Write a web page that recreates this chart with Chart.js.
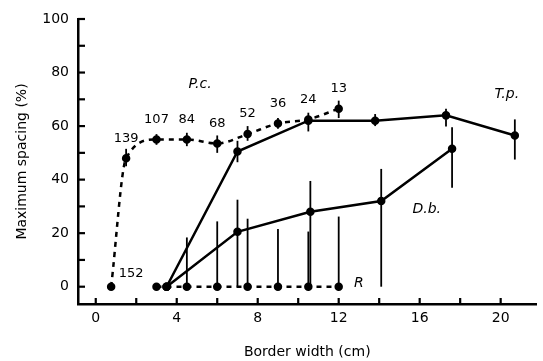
<!DOCTYPE html>
<html>
<head>
<meta charset="utf-8">
<script src="https://cdn.jsdelivr.net/npm/chart.js@4/dist/chart.umd.min.js"></script>
<style>
  html, body { margin: 0; padding: 0; background: #fff; }
  #wrap { width: 543px; height: 361px; }
</style>
</head>
<body>
<div id="wrap"><canvas id="chartSpacing"></canvas></div>
<script>
// P.c. (dashed) with sample sizes
const pcX = [0.76, 1.5, 3, 4.5, 6, 7.5, 9, 10.5, 12];
const pcY = [0, 48, 55, 55, 53.5, 57, 61, 62.5, 66.5];
const pcHi = [null, 51.5, 57, 57.5, 56.5, 60, 63, 65, 69.5];
const pcLo = [null, 45, 53, 52.5, 50, 54.5, 59, 58, 63];
const pcN = ['152', '139', '107', '84', '68', '52', '36', '24', '13'];

// T.p. (solid)
const tpX = [3.5, 7, 10.5, 13.8, 17.3, 20.7];
const tpY = [0, 50.5, 62, 62, 64, 56.5];
const tpHi = [null, 54.5, null, 64.5, 66.5, 62.5];
const tpLo = [null, 46.5, null, 60, 59.8, 47.5];

// D.b. (solid)
const dbX = [3.5, 7, 10.6, 14.1, 17.6];
const dbY = [0, 20.5, 28, 32, 51.5];
const dbHi = [null, 32.5, 39.5, 44, 59.6];
const dbLo = [null, 0, 0, 0, 37];

// R (dashed, all zero)
const rX = [3, 3.5, 4.5, 6, 7.5, 9, 10.5, 12];
const rY = [0, 0, 0, 0, 0, 0, 0, 0];
const rHi = [null, null, 18.4, 24.4, 25.4, 21.6, 20.6, 26.2];
const rLo = [null, null, 0, 0, 0, 0, 0, 0];

// series name labels (placed in data coords)
const seriesNames = ['P.c.', 'T.p.', 'D.b.', 'R'];
const nameX = [5.15, 20.3, 16.35, 13.0];
const nameY = [75.5, 72, 29, 1.3];

const xMajor = [0, 4, 8, 12, 16, 20];
const xMinor = [2, 6, 10, 14, 18];
const yMajor = [0, 20, 40, 60, 80, 100];
const yMinor = [10, 30, 50, 70, 90];

const FONT = 'DejaVu Sans';

function pts(xs, ys) {
  return xs.map((x, i) => ({ x: x, y: ys[i] }));
}

const errorBars = {
  id: 'errorBars',
  afterDatasetsDraw(chart) {
    const ctx = chart.ctx;
    const xs = chart.scales.x, ys = chart.scales.y;
    ctx.save();
    ctx.strokeStyle = '#000';
    ctx.lineWidth = 1.8;
    chart.data.datasets.forEach(ds => {
      if (!ds.errHi) return;
      ds.data.forEach((p, i) => {
        if (ds.errHi[i] == null) return;
        const px = xs.getPixelForValue(p.x);
        ctx.beginPath();
        ctx.moveTo(px, ys.getPixelForValue(ds.errLo[i]));
        ctx.lineTo(px, ys.getPixelForValue(ds.errHi[i]));
        ctx.stroke();
      });
    });
    ctx.restore();
  }
};

const textMarks = {
  id: 'textMarks',
  afterDraw(chart) {
    const ctx = chart.ctx;
    const xs = chart.scales.x, ys = chart.scales.y;
    ctx.save();
    ctx.fillStyle = '#000';
    ctx.textAlign = 'center';
    ctx.textBaseline = 'middle';
    // sample sizes above P.c. points
    ctx.font = '13px "' + FONT + '"';
    pcN.forEach((n, i) => {
      const px = xs.getPixelForValue(pcX[i]);
      const py = ys.getPixelForValue(pcY[i]);
      if (i === 0) ctx.fillText(n, px + 20, py - 13);
      else ctx.fillText(n, px, py - 20);
    });
    ctx.font = 'italic 14px "' + FONT + '"';
    seriesNames.forEach((s, i) => {
      ctx.fillText(s, xs.getPixelForValue(nameX[i]), ys.getPixelForValue(nameY[i]));
    });
    // inward ticks
    ctx.strokeStyle = '#000';
    ctx.lineWidth = 2.2;
    const left = chart.chartArea.left, bottom = chart.chartArea.bottom;
    xMajor.concat(xMinor).forEach(v => {
      const px = xs.getPixelForValue(v);
      ctx.beginPath(); ctx.moveTo(px, bottom); ctx.lineTo(px, bottom - 6); ctx.stroke();
    });
    yMajor.concat(yMinor).forEach(v => {
      const py = ys.getPixelForValue(v);
      ctx.beginPath(); ctx.moveTo(left, py); ctx.lineTo(left + 7, py); ctx.stroke();
    });
    ctx.restore();
  }
};

const ctx = document.getElementById('chartSpacing').getContext('2d');

const lineWidth = 2.5;
const radius = 3;

const myChart = new Chart(ctx, {
  type: 'scatter',
  data: {
    datasets: [
      {
        label: 'P.c.',
        data: pts(pcX, pcY),
        showLine: true,
        borderDash: [5, 5],
        borderColor: '#000',
        backgroundColor: '#000',
        borderWidth: lineWidth,
        pointRadius: radius,
        cubicInterpolationMode: 'monotone',
        errHi: pcHi,
        errLo: pcLo
      },
      {
        label: 'T.p.',
        data: pts(tpX, tpY),
        showLine: true,
        borderColor: '#000',
        backgroundColor: '#000',
        borderWidth: lineWidth,
        pointRadius: radius,
        errHi: tpHi,
        errLo: tpLo
      },
      {
        label: 'D.b.',
        data: pts(dbX, dbY),
        showLine: true,
        borderColor: '#000',
        backgroundColor: '#000',
        borderWidth: lineWidth,
        pointRadius: radius,
        errHi: dbHi,
        errLo: dbLo
      },
      {
        label: 'R',
        data: pts(rX, rY),
        showLine: true,
        borderDash: [5, 5],
        borderColor: '#000',
        backgroundColor: '#000',
        borderWidth: lineWidth,
        pointRadius: radius,
        errHi: rHi,
        errLo: rLo
      }
    ]
  },
  options: {
    responsive: true,
    maintainAspectRatio: false,
    animation: false,
    layout: { padding: { top: 19, right: 0, left: 0, bottom: 0 } },
    plugins: {
      legend: { display: false },
      tooltip: { enabled: false }
    },
    scales: {
      x: {
        type: 'linear',
        min: -0.877,
        max: 21.77,
        afterBuildTicks: s => { s.ticks = xMajor.map(v => ({ value: v })); },
        afterFit: s => { s.height = 57; },
        grid: { display: false, drawTicks: false },
        border: { display: true, color: '#000', width: 2.5 },
        ticks: { color: '#000', padding: 6, maxRotation: 0, font: { family: FONT, size: 14 } },
        title: { display: true, text: 'Border width (cm)', color: '#000', padding: { top: 4, bottom: 0 }, font: { family: FONT, size: 14 } }
      },
      y: {
        type: 'linear',
        min: -6.46,
        max: 100,
        afterBuildTicks: s => { s.ticks = yMajor.map(v => ({ value: v })); },
        afterFit: s => { s.width = 78; },
        grid: { display: false, drawTicks: false },
        border: { display: true, color: '#000', width: 2.5 },
        ticks: { color: '#000', padding: 9, font: { family: FONT, size: 14 } },
        title: { display: true, text: 'Maximum spacing (%)', color: '#000', padding: { top: 14 }, font: { family: FONT, size: 14 } }
      }
    }
  },
  plugins: [errorBars, textMarks]
});
</script>
</body>
</html>
